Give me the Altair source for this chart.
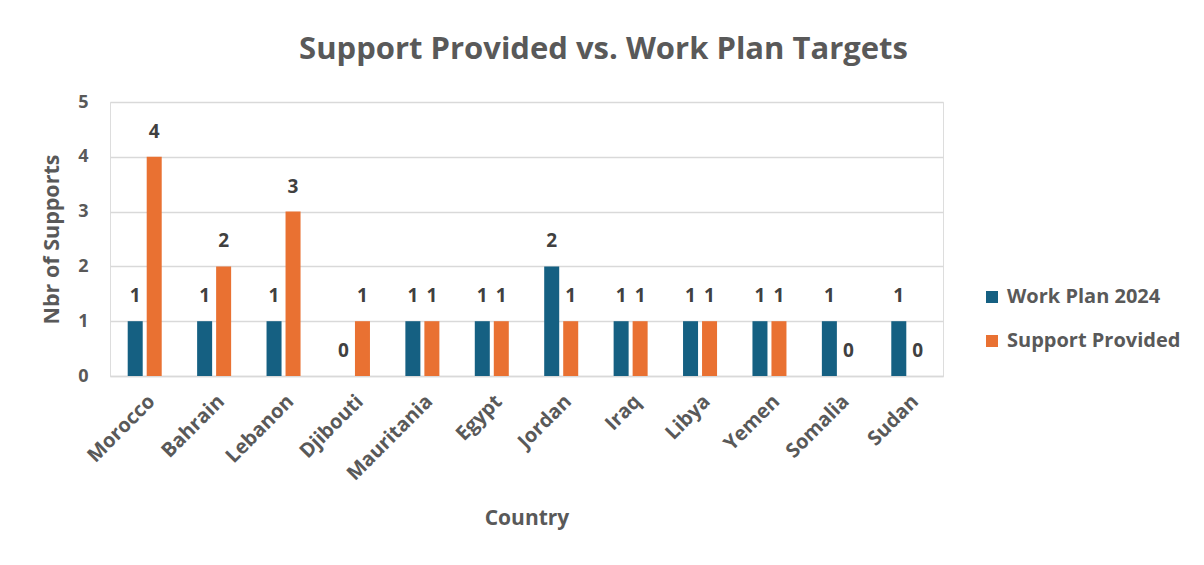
import altair as alt
import pandas as pd

countries = ["Morocco", "Bahrain", "Lebanon", "Djibouti", "Mauritania", "Egypt",
             "Jordan", "Iraq", "Libya", "Yemen", "Somalia", "Sudan"]
work_plan = [1, 1, 1, 0, 1, 1, 2, 1, 1, 1, 1, 1]
support_provided = [4, 2, 3, 1, 1, 1, 1, 1, 1, 1, 0, 0]
series = ["Work Plan 2024", "Support Provided"]
colors = ["#156082", "#E97132"]

rows = []
for c, w, s in zip(countries, work_plan, support_provided):
    rows.append({"Country": c, "Series": series[0], "Value": w})
    rows.append({"Country": c, "Series": series[1], "Value": s})
df = pd.DataFrame(rows)

FONT = "Open Sans"
GRAY = "#595959"

x = alt.X("Country:N", sort=countries, title="Country",
          scale=alt.Scale(paddingInner=0.51, paddingOuter=0.255),
          axis=alt.Axis(labelAngle=-45, labelFontSize=20, labelFontWeight="bold",
                        labelColor=GRAY, labelFont=FONT, labelPadding=15,
                        ticks=False, domainColor="#D9D9D9", domainWidth=1.5,
                        titleFontSize=21, titleFontWeight="bold", titleColor=GRAY,
                        titleFont=FONT, titlePadding=24))
xo = alt.XOffset("Series:N", sort=series, scale=alt.Scale(paddingInner=0.21))

base = alt.Chart(df)

bars = base.mark_bar().encode(
    x=x,
    xOffset=xo,
    y=alt.Y("Value:Q", title="Nbr of Supports",
            scale=alt.Scale(domain=[0, 5]),
            axis=alt.Axis(values=[0, 1, 2, 3, 4, 5], format="d", ticks=False,
                          domain=False, gridColor="#D9D9D9", gridWidth=1.5,
                          labelFontSize=18, labelFontWeight="bold", labelColor=GRAY,
                          labelFont=FONT, labelPadding=22,
                          titleFontSize=21.5, titleFontWeight="bold", titleColor=GRAY,
                          titleFont=FONT, titlePadding=14)),
    color=alt.Color("Series:N", sort=series,
                    scale=alt.Scale(domain=series, range=colors),
                    legend=alt.Legend(title=None, orient="none", legendX=872, legendY=185,
                                      symbolType="square", symbolSize=144,
                                      labelFontSize=20, labelFontWeight="bold",
                                      labelColor=GRAY, labelFont=FONT, labelLimit=400,
                                      rowPadding=24, labelOffset=5)),
)

labels = base.mark_text(fontSize=19, fontWeight="bold", color="#404040", font=FONT,
                        baseline="middle", dy=-25).encode(
    x=alt.X("Country:N", sort=countries),
    xOffset=xo,
    y="Value:Q",
    text=alt.Text("Value:Q", format="d"),
)

chart = alt.layer(bars, labels).properties(
    width=833, height=274,
    title=alt.TitleParams("Support Provided vs. Work Plan Targets", fontSize=31,
                          fontWeight="bold", color=GRAY, font=FONT,
                          anchor="middle", dx=77, offset=27),
    autosize=alt.AutoSizeParams(type="none"),
    padding={"left": 102, "top": 94, "right": 253, "bottom": 181},
).configure_view(stroke=None).configure(background="white")

chart.save("out.html", embed_options={"renderer": "svg", "actions": False})
